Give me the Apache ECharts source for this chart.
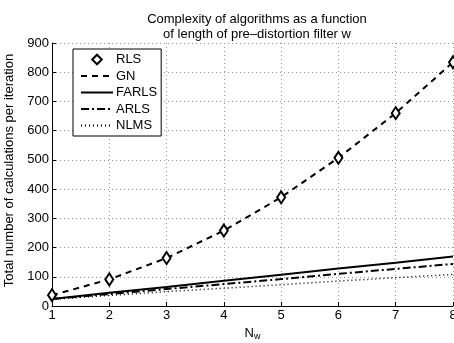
<!DOCTYPE html>
<html>
<head>
<meta charset="utf-8">
<script src="https://cdn.jsdelivr.net/npm/echarts@6/dist/echarts.min.js"></script>
<style>
html, body { margin: 0; padding: 0; background: #fff; }
#ec { width: 454px; height: 343px; }
</style>
</head>
<body>
<div id="ec"></div>
<script>
// filter length N_w
const nw = [1, 2, 3, 4, 5, 6, 7, 8];
const rls = [37, 91, 164, 258, 372, 507, 660, 834];
const gn = [37, 91, 164, 258, 372, 507, 660, 834];
const farls = [24, 45, 65, 86, 107, 128, 148, 169];
const arls = [24, 41, 58, 75, 92, 110, 127, 144];
const nlms = [23, 36, 49, 61, 73, 85, 97, 108];
const yTicks = [0, 100, 200, 300, 400, 500, 600, 700, 800, 900];

const pts = arr => arr.map((v, i) => [nw[i], v]);
const font = 'Liberation Sans, Arial, sans-serif';
const noDot = { opacity: 0 };

var myChart = echarts.init(document.getElementById('ec'));
var option = {
    animation: false,
    title: {
        text: 'Complexity of algorithms as a function\nof length of pre\u2013distortion filter w',
        left: 252,
        top: 7,
        textAlign: 'center',
        textStyle: { fontFamily: font, fontSize: 13, fontWeight: 'normal', color: '#000', lineHeight: 15 }
    },
    legend: {
        orient: 'vertical',
        left: 73,
        top: 49,
        padding: [4, 4, 4, 7],
        itemGap: 3.5,
        itemWidth: 32,
        itemHeight: 12,
        borderColor: '#000',
        borderWidth: 1,
        backgroundColor: '#fff',
        textStyle: { fontFamily: font, fontSize: 13, lineHeight: 13, color: '#000', padding: [0, 0, 0, -2] },
        data: [
            { name: 'RLS' },
            { name: 'GN', itemStyle: noDot },
            { name: 'FARLS', itemStyle: noDot },
            { name: 'ARLS', itemStyle: noDot },
            { name: 'NLMS', itemStyle: noDot }
        ]
    },
    grid: { left: 52, right: 1, top: 43, bottom: 37, outerBoundsMode: 'none', containLabel: false },
    xAxis: {
        type: 'value',
        min: 1,
        max: 8,
        interval: 1,
        name: '{n|N}{s|w}',
        nameLocation: 'middle',
        nameGap: 19,
        nameTextStyle: {
            rich: {
                n: { fontFamily: font, fontSize: 13, color: '#000' },
                s: { fontFamily: font, fontSize: 9, color: '#000', verticalAlign: 'bottom', padding: [7, 0, 0, 0] }
            }
        },
        axisLine: { lineStyle: { color: '#000', width: 1 } },
        axisTick: { inside: true, length: 4, lineStyle: { color: '#000' } },
        axisLabel: { fontFamily: font, fontSize: 13, color: '#000', margin: 3 },
        splitLine: { show: true, lineStyle: { color: '#999', type: [1, 3], width: 1 } }
    },
    yAxis: {
        type: 'value',
        min: 0,
        max: 900,
        interval: 100,
        name: 'Total number of calculations per iteration',
        nameLocation: 'middle',
        nameGap: 29,
        nameTextStyle: { fontFamily: font, fontSize: 13, color: '#000', padding: [0, 0, 0, 8] },
        axisLine: { show: true, lineStyle: { color: '#000', width: 1 } },
        axisTick: { show: true, inside: true, length: 4, lineStyle: { color: '#000' } },
        axisLabel: {
            fontFamily: font, fontSize: 13, color: '#000', margin: 3,
            formatter: v => yTicks.includes(v) ? String(v) : ''
        },
        splitLine: { show: true, lineStyle: { color: '#999', type: [1, 3], width: 1 } }
    },
    series: [
        {
            name: 'RLS',
            type: 'line',
            data: pts(rls),
            symbol: 'diamond',
            symbolSize: [8, 12],
            lineStyle: { width: 0, opacity: 0 },
            itemStyle: { color: '#fff', borderColor: '#000', borderWidth: 2 },
            z: 5
        },
        {
            name: 'GN',
            type: 'line',
            data: pts(gn),
            symbol: 'none',
            itemStyle: { color: '#000' },
            lineStyle: { color: '#000', width: 2, type: [6, 5] }
        },
        {
            name: 'FARLS',
            type: 'line',
            data: pts(farls),
            symbol: 'none',
            itemStyle: { color: '#000' },
            lineStyle: { color: '#000', width: 2 }
        },
        {
            name: 'ARLS',
            type: 'line',
            data: pts(arls),
            symbol: 'none',
            itemStyle: { color: '#000' },
            lineStyle: { color: '#000', width: 2, type: [8, 3, 2, 3] }
        },
        {
            name: 'NLMS',
            type: 'line',
            data: pts(nlms),
            symbol: 'none',
            itemStyle: { color: '#000' },
            lineStyle: { color: '#000', width: 1.5, type: [1, 3] }
        }
    ]
};
option && myChart.setOption(option);
</script>
</body>
</html>
